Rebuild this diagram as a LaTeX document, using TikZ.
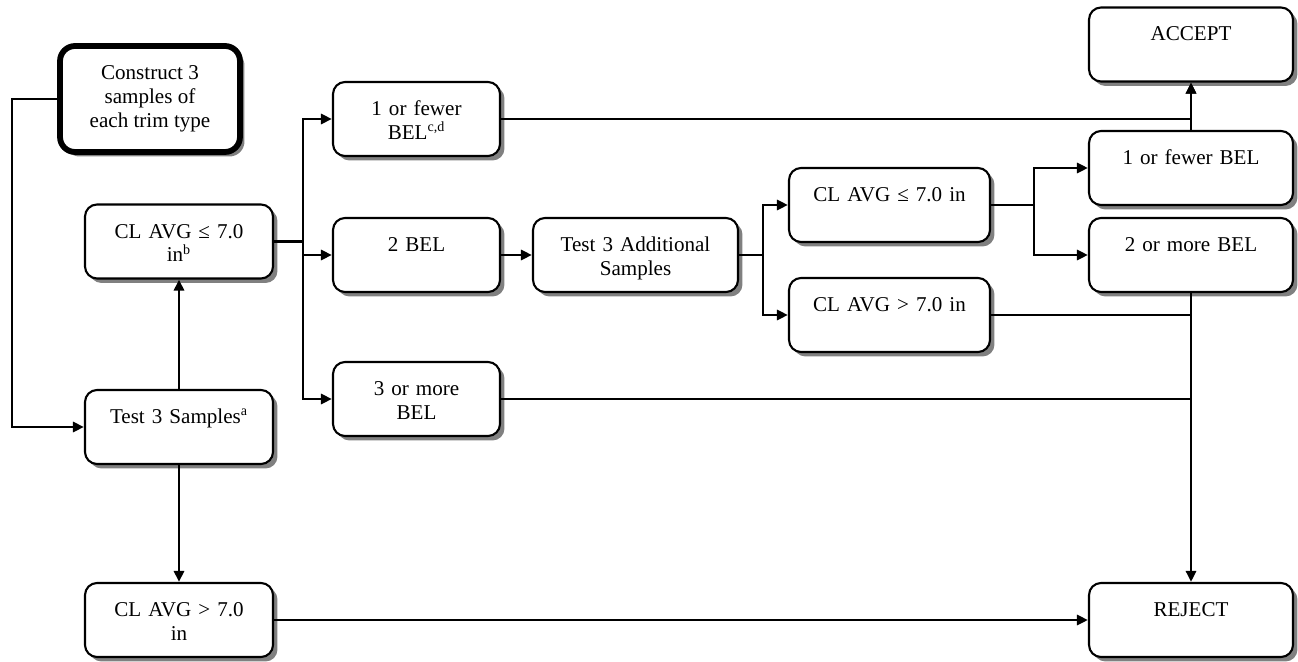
\documentclass[tikz,border=0pt]{standalone}
\usepackage{fontspec}
\setmainfont{Liberation Serif}
\usetikzlibrary{arrows.meta,shadows}

\begin{document}
\begin{tikzpicture}[
        x=0.02cm, y=-0.02cm,
        box/.style={draw, line width=1.2pt, rounded corners=0.24cm, fill=white,
          drop shadow={shadow xshift=0.09cm, shadow yshift=-0.09cm, fill=black!50, opacity=1},
          align=center, text width=#1, inner xsep=0.08cm, inner ysep=0.05cm,
          text height=0.62cm, text depth=0.76cm},
        startbox/.style={draw, line width=3.3pt, rounded corners=0.3cm, fill=white,
          drop shadow={shadow xshift=0.09cm, shadow yshift=-0.09cm, fill=black!50, opacity=1},
          align=center, minimum width=3.6cm, minimum height=2.12cm},
        every node/.style={font=\fontsize{12}{13.5}\selectfont},
        line/.style={line width=1.5pt},
        arr/.style={line, -{Triangle[length=0.22cm, width=0.2cm]}}
      ]
      \useasboundingbox (0,0) rectangle (1298,662);
      \node[startbox] (cons) at (150,99) {Construct 3\\samples of\\each trim type};
      \node[box=3.6cm] (clle) at (179,241.5) {CL AVG ≤ 7.0\\in\textsuperscript{b}};
      \node[box=3.6cm] (test) at (179,427) {Test 3 Samples\textsuperscript{a}};
      \node[box=3.6cm] (clgt) at (179,620) {CL AVG > 7.0\\in};
      \node[box=3.18cm] (few) at (416.5,119) {1 or fewer\\BEL\textsuperscript{c,d}};
      \node[box=3.18cm] (two) at (416.5,255) {2 BEL};
      \node[box=3.18cm] (three) at (416.5,399) {3 or more\\BEL};
      \node[box=3.94cm] (add) at (635.5,255) {Test 3 Additional\\Samples};
      \node[box=3.86cm] (clle2) at (889.5,205) {CL AVG ≤ 7.0 in};
      \node[box=3.86cm] (clgt2) at (889.5,315) {CL AVG > 7.0 in};
      \node[box=3.92cm] (accept) at (1191,44.5) {ACCEPT};
      \node[box=3.92cm] (fewb) at (1191,168) {1 or fewer BEL};
      \node[box=3.92cm] (more) at (1191,255) {2 or more BEL};
      \node[box=3.92cm] (reject) at (1191,620) {REJECT};
      \coordinate (j1) at (303,241.5);
      \coordinate (j2) at (763,255);
      \coordinate (j3) at (1034,205);
      \draw[arr] (cons.west) -- ++(-45,0) |- (test.west);
      \draw[arr] (test.north) -- (clle.south);
      \draw[arr] (test.south) -- (clgt.north);
      \draw[line] (clle.east) -- (j1);
      \draw[arr] (j1) |- (few.west);
      \draw[arr] (j1) |- (two.west);
      \draw[arr] (j1) |- (three.west);
      \draw[arr] (few.east) -| (accept.south);
      \draw[arr] (fewb.north) -- (accept.south);
      \draw[arr] (two.east) -- (add.west);
      \draw[line] (add.east) -- (j2);
      \draw[arr] (j2) |- (clle2.west);
      \draw[arr] (j2) |- (clgt2.west);
      \draw[line] (clle2.east) -- (j3);
      \draw[arr] (j3) |- (fewb.west);
      \draw[arr] (j3) |- (more.west);
      \draw[arr] (more.south) -- (reject.north);
      \draw[line] (clgt2.east) -- (clgt2.east -| reject.north);
      \draw[line] (three.east) -- (three.east -| reject.north);
      \draw[arr] (clgt.east) -- (reject.west);
    \end{tikzpicture}
\end{document}
